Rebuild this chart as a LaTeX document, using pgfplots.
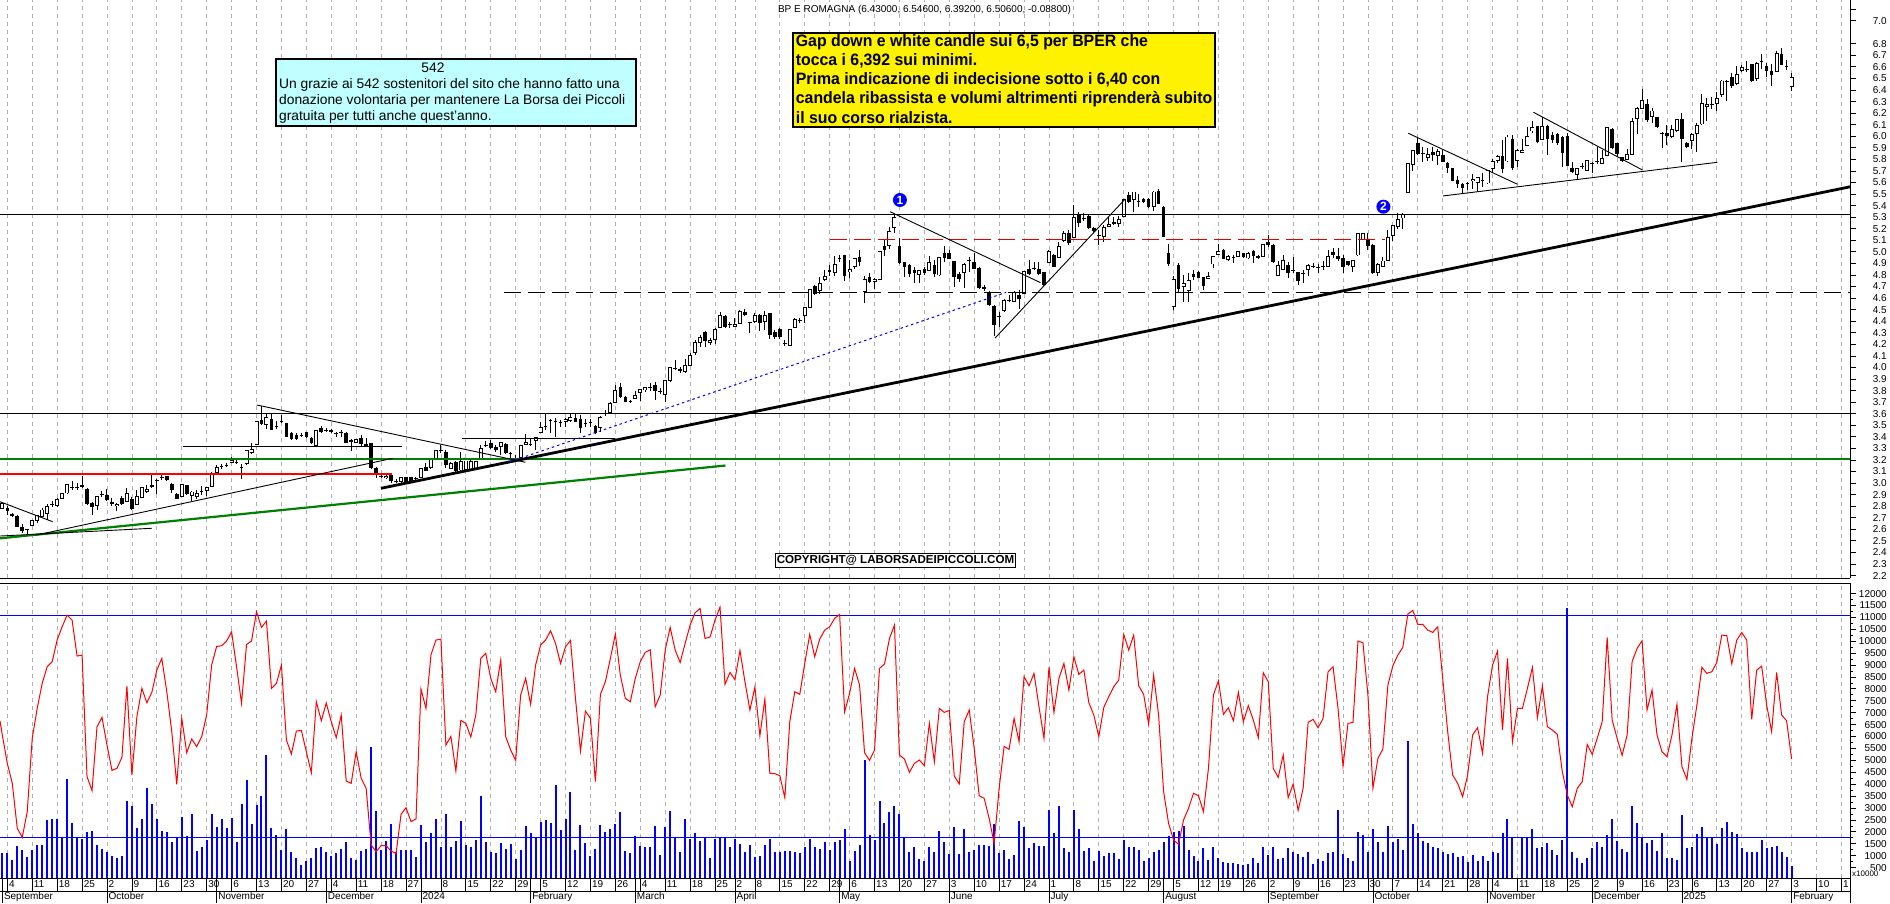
\documentclass[border=0pt]{standalone}
\usepackage{fontspec}
\setmainfont{Liberation Sans}
\newfontfamily\narrowb[FakeStretch=0.96]{Liberation Sans Bold}
\usepackage{pgfplots}
\usepackage{pgfplotstable}
\pgfplotsset{compat=1.18}
% black candles and dojis: bar o h l c
\pgfplotstableread{
i o h l c
0 2.787 2.802 2.724 2.759
1 2.733 2.738 2.710 2.715
2 2.715 2.720 2.618 2.623
3 2.623 2.646 2.571 2.586
4 2.603 2.603 2.551 2.603
9 2.816 2.848 2.790 2.816
13 2.969 3.018 2.940 2.969
14 2.969 2.998 2.940 2.969
15 2.981 3.064 2.955 2.963
16 2.949 2.955 2.813 2.819
17 2.825 2.839 2.724 2.790
19 2.903 2.935 2.877 2.903
20 2.894 2.946 2.848 2.854
21 2.839 2.868 2.802 2.822
23 2.868 2.888 2.808 2.819
25 2.862 2.883 2.767 2.776
29 2.984 3.070 2.955 2.963
30 3.027 3.036 2.903 3.027
31 3.050 3.090 3.027 3.050
32 3.059 3.064 3.020 3.024
33 2.992 2.998 2.917 2.940
34 2.906 2.911 2.860 2.865
36 2.981 2.984 2.900 2.906
39 2.929 2.978 2.897 2.929
43 3.145 3.168 3.122 3.145
44 3.160 3.177 3.136 3.160
46 3.183 3.200 3.165 3.183
47 3.142 3.162 3.036 3.142
51 3.546 3.667 3.503 3.508
53 3.555 3.604 3.459 3.462
54 3.497 3.540 3.468 3.497
55 3.540 3.589 3.517 3.540
56 3.517 3.520 3.398 3.402
57 3.433 3.445 3.373 3.379
58 3.413 3.431 3.373 3.379
59 3.416 3.436 3.402 3.416
60 3.439 3.445 3.390 3.396
61 3.393 3.402 3.338 3.347
63 3.477 3.494 3.431 3.442
64 3.459 3.474 3.445 3.459
65 3.459 3.471 3.433 3.439
66 3.431 3.445 3.402 3.431
67 3.439 3.459 3.402 3.439
68 3.433 3.440 3.345 3.350
69 3.370 3.379 3.281 3.353
71 3.387 3.416 3.315 3.341
72 3.338 3.387 3.315 3.324
73 3.344 3.350 3.120 3.128
74 3.134 3.142 3.041 3.087
75 3.064 3.079 3.041 3.064
77 3.070 3.079 2.998 3.018
78 3.018 3.033 2.998 3.018
80 3.050 3.055 3.005 3.012
81 3.050 3.055 3.005 3.010
82 3.041 3.050 3.030 3.041
84 3.136 3.171 3.102 3.108
87 3.286 3.330 3.263 3.286
88 3.272 3.286 3.128 3.157
90 3.185 3.190 3.100 3.108
96 3.330 3.367 3.315 3.330
97 3.350 3.373 3.298 3.307
98 3.314 3.329 3.271 3.285
100 3.337 3.345 3.250 3.257
101 3.257 3.271 3.213 3.257
102 3.219 3.242 3.185 3.219
105 3.337 3.386 3.320 3.337
108 3.493 3.597 3.459 3.493
109 3.545 3.551 3.435 3.545
110 3.539 3.559 3.401 3.539
111 3.525 3.545 3.482 3.525
114 3.559 3.603 3.525 3.531
115 3.551 3.588 3.430 3.473
116 3.522 3.551 3.482 3.522
117 3.525 3.551 3.487 3.525
118 3.493 3.502 3.421 3.430
120 3.603 3.632 3.580 3.603
123 3.828 3.868 3.738 3.747
124 3.741 3.750 3.700 3.704
125 3.709 3.715 3.690 3.698
129 3.828 3.868 3.796 3.828
130 3.845 3.877 3.718 3.796
131 3.799 3.819 3.770 3.799
134 3.998 4.064 3.978 3.983
135 3.983 4.006 3.955 3.969
140 4.304 4.312 4.180 4.229
144 4.445 4.450 4.340 4.347
145 4.378 4.396 4.338 4.378
148 4.477 4.505 4.445 4.451
149 4.393 4.396 4.301 4.393
151 4.451 4.462 4.318 4.381
153 4.468 4.474 4.246 4.280
154 4.304 4.324 4.246 4.263
155 4.329 4.338 4.246 4.260
156 4.214 4.237 4.185 4.214
159 4.410 4.430 4.381 4.410
162 4.704 4.716 4.629 4.635
165 4.843 4.886 4.791 4.823
167 4.944 4.973 4.912 4.944
168 4.973 4.973 4.751 4.791
171 4.952 5.016 4.877 4.915
173 4.779 4.820 4.727 4.739
176 5.050 5.102 4.967 5.016
179 5.050 5.117 4.895 4.901
180 4.912 4.915 4.785 4.872
181 4.883 4.895 4.785 4.808
182 4.843 4.866 4.733 4.814
184 4.854 4.872 4.800 4.820
186 4.886 4.929 4.779 4.808
188 4.993 5.050 4.915 4.944
189 4.993 5.016 4.935 4.941
190 4.921 4.924 4.699 4.785
191 4.808 4.828 4.742 4.762
193 4.929 4.958 4.828 4.929
194 4.912 4.987 4.849 4.854
195 4.857 4.866 4.676 4.684
196 4.700 4.710 4.665 4.675
197 4.655 4.661 4.531 4.540
198 4.531 4.540 4.272 4.367
199 4.448 4.482 4.352 4.448
201 4.583 4.626 4.563 4.583
203 4.626 4.670 4.502 4.592
205 4.851 4.929 4.797 4.808
206 4.863 4.915 4.843 4.863
207 4.848 4.912 4.799 4.811
208 4.825 4.830 4.705 4.713
210 4.973 4.980 4.865 4.872
213 5.160 5.189 5.059 5.079
215 5.321 5.347 5.218 5.246
216 5.290 5.333 5.270 5.290
217 5.310 5.319 5.197 5.206
218 5.209 5.218 5.174 5.183
219 5.146 5.189 5.059 5.146
222 5.255 5.298 5.232 5.244
225 5.489 5.520 5.425 5.434
227 5.443 5.497 5.391 5.443
228 5.454 5.463 5.425 5.431
229 5.454 5.463 5.382 5.391
231 5.526 5.541 5.411 5.417
232 5.385 5.396 5.125 5.131
233 4.990 5.065 4.877 4.895
235 4.886 4.900 4.641 4.681
238 4.811 4.843 4.756 4.782
239 4.823 4.837 4.771 4.776
240 4.779 4.785 4.670 4.707
244 5.013 5.022 4.935 4.941
246 4.952 4.973 4.900 4.952
248 4.987 4.990 4.950 4.958
250 5.004 5.016 4.906 4.964
251 4.964 4.970 4.940 4.944
253 5.082 5.146 5.045 5.059
254 5.059 5.065 4.905 4.915
257 4.886 4.909 4.771 4.820
258 4.840 4.958 4.814 4.840
259 4.823 4.828 4.713 4.750
260 4.814 4.843 4.733 4.814
262 4.880 4.900 4.857 4.880
263 4.872 4.895 4.814 4.872
264 4.880 4.921 4.843 4.880
266 5.001 5.030 4.944 4.973
267 4.964 5.030 4.923 4.941
268 4.947 4.973 4.820 4.866
269 4.918 4.925 4.880 4.886
273 5.108 5.160 5.016 5.050
274 5.059 5.065 4.805 4.814
283 5.942 5.985 5.838 5.850
284 5.858 5.910 5.777 5.858
286 5.864 5.910 5.789 5.838
288 5.835 5.881 5.774 5.780
289 5.766 5.774 5.685 5.728
290 5.723 5.730 5.610 5.616
291 5.619 5.656 5.555 5.590
292 5.584 5.599 5.506 5.552
293 5.593 5.607 5.535 5.593
296 5.622 5.679 5.564 5.622
300 5.826 5.968 5.679 5.714
302 5.973 6.011 5.708 5.728
307 6.086 6.090 5.945 5.953
309 6.089 6.095 5.838 5.973
310 6.011 6.040 5.939 5.968
311 6.020 6.031 5.924 5.945
312 5.994 6.002 5.737 5.858
313 6.000 6.025 5.743 5.746
314 5.728 5.780 5.679 5.691
316 5.746 5.772 5.714 5.746
318 5.769 5.774 5.685 5.769
319 5.789 5.910 5.760 5.789
322 6.063 6.069 5.887 5.899
323 5.939 5.945 5.823 5.844
324 5.818 5.824 5.780 5.786
329 6.279 6.320 6.126 6.138
331 6.164 6.170 6.071 6.083
332 6.031 6.037 5.901 6.031
333 6.025 6.097 5.924 6.005
336 6.149 6.204 5.780 5.973
337 5.945 5.953 5.901 5.907
342 6.279 6.337 6.233 6.279
345 6.478 6.487 6.305 6.478
346 6.510 6.550 6.421 6.438
349 6.582 6.651 6.559 6.582
350 6.622 6.625 6.467 6.478
352 6.651 6.712 6.579 6.651
353 6.608 6.631 6.516 6.568
354 6.565 6.625 6.438 6.533
356 6.712 6.761 6.614 6.620
357 6.611 6.660 6.573 6.611
}\candB
% white candles: bar o h l c
\pgfplotstableread{
i o h l c
-1 2.782 2.830 2.773 2.825
5 2.632 2.681 2.629 2.678
6 2.675 2.724 2.658 2.718
7 2.715 2.782 2.710 2.767
8 2.733 2.819 2.681 2.796
10 2.808 2.868 2.796 2.860
11 2.868 2.917 2.862 2.911
12 2.914 2.995 2.908 2.989
18 2.808 2.888 2.767 2.883
22 2.802 2.825 2.762 2.816
24 2.839 2.955 2.833 2.911
26 2.816 2.940 2.811 2.883
27 2.877 2.963 2.868 2.961
28 2.926 2.984 2.917 2.946
35 2.883 2.989 2.877 2.984
37 2.891 2.929 2.848 2.923
38 2.888 2.940 2.860 2.906
40 2.935 2.963 2.888 2.958
41 2.969 3.099 2.963 3.070
42 3.090 3.154 3.085 3.134
45 3.180 3.223 3.171 3.197
48 3.171 3.286 3.157 3.281
49 3.263 3.344 3.252 3.292
50 3.335 3.540 3.327 3.532
52 3.508 3.604 3.465 3.569
62 3.324 3.460 3.320 3.457
70 3.350 3.385 3.345 3.379
76 3.050 3.070 3.033 3.061
79 3.012 3.050 3.000 3.047
83 3.047 3.133 3.040 3.128
85 3.131 3.206 3.125 3.203
86 3.203 3.290 3.198 3.281
89 3.128 3.180 3.120 3.171
91 3.113 3.272 3.108 3.185
92 3.119 3.195 3.113 3.191
93 3.119 3.214 3.113 3.185
94 3.128 3.195 3.120 3.185
95 3.214 3.330 3.200 3.301
99 3.320 3.358 3.242 3.349
103 3.222 3.330 3.215 3.326
104 3.335 3.421 3.329 3.352
106 3.369 3.401 3.285 3.392
107 3.435 3.531 3.430 3.482
112 3.531 3.559 3.482 3.551
113 3.539 3.608 3.531 3.568
119 3.482 3.580 3.444 3.568
121 3.608 3.698 3.597 3.689
122 3.698 3.848 3.689 3.802
126 3.735 3.799 3.724 3.758
127 3.784 3.810 3.712 3.810
128 3.805 3.833 3.790 3.828
132 3.770 3.891 3.704 3.885
133 3.885 4.006 3.877 4.001
136 3.963 4.070 3.955 4.021
137 4.018 4.122 4.012 4.105
138 4.128 4.237 4.107 4.220
139 4.214 4.280 4.180 4.263
141 4.214 4.252 4.194 4.234
142 4.243 4.338 4.203 4.329
143 4.344 4.482 4.338 4.448
146 4.353 4.425 4.347 4.373
147 4.381 4.497 4.376 4.488
150 4.396 4.468 4.387 4.448
152 4.399 4.491 4.324 4.448
157 4.191 4.335 4.185 4.329
158 4.344 4.425 4.338 4.416
160 4.451 4.526 4.387 4.520
161 4.520 4.681 4.514 4.676
163 4.664 4.779 4.635 4.727
164 4.762 4.843 4.751 4.785
166 4.820 4.964 4.791 4.892
169 4.826 4.929 4.771 4.849
170 4.877 4.950 4.849 4.944
172 4.655 4.791 4.560 4.762
174 4.745 4.771 4.676 4.762
175 4.762 5.007 4.756 5.004
177 5.056 5.212 5.022 5.177
178 5.209 5.319 5.166 5.299
183 4.808 4.843 4.727 4.837
185 4.843 4.964 4.837 4.909
187 4.800 4.958 4.791 4.950
192 4.823 4.901 4.684 4.889
200 4.497 4.589 4.482 4.580
202 4.574 4.658 4.566 4.652
204 4.641 4.837 4.635 4.831
209 4.906 5.013 4.900 5.007
211 4.949 5.088 4.944 5.047
212 5.102 5.180 5.088 5.157
214 5.125 5.405 5.117 5.298
220 5.131 5.232 5.088 5.209
221 5.221 5.298 5.212 5.238
223 5.246 5.310 5.218 5.281
224 5.304 5.460 5.300 5.454
226 5.454 5.520 5.345 5.518
230 5.391 5.526 5.356 5.518
234 4.526 4.794 4.497 4.762
236 4.698 4.799 4.569 4.724
237 4.670 4.814 4.569 4.753
241 4.771 4.828 4.765 4.791
242 4.895 4.967 4.857 4.961
243 4.978 5.068 4.970 5.004
245 4.935 4.973 4.918 4.958
247 4.958 5.005 4.955 5.001
249 4.947 5.001 4.941 4.987
252 4.958 5.068 4.952 5.062
255 4.799 4.921 4.794 4.886
256 4.848 4.973 4.843 4.924
261 4.848 4.892 4.791 4.886
265 4.872 5.016 4.866 4.964
270 4.877 4.929 4.828 4.923
271 4.973 5.165 4.968 5.160
272 5.108 5.165 5.100 5.160
275 4.820 4.900 4.794 4.892
276 4.872 4.958 4.866 4.921
277 4.923 5.189 4.918 5.125
278 5.140 5.232 5.097 5.229
279 5.223 5.333 5.195 5.281
280 5.293 5.333 5.195 5.321
281 5.512 5.770 5.508 5.766
282 5.757 5.881 5.702 5.878
285 5.818 5.896 5.789 5.844
287 5.835 5.887 5.751 5.867
294 5.619 5.674 5.544 5.630
295 5.601 5.650 5.521 5.645
297 5.596 5.708 5.587 5.702
298 5.723 5.800 5.679 5.780
299 5.789 5.841 5.766 5.824
301 5.786 6.011 5.780 5.994
303 5.792 5.887 5.731 5.875
304 5.858 5.973 5.852 5.878
305 5.922 6.083 5.916 6.002
306 6.046 6.135 6.025 6.077
308 5.973 6.164 5.968 6.083
315 5.668 5.728 5.622 5.723
317 5.708 5.795 5.702 5.789
320 5.766 5.881 5.760 5.809
321 5.835 6.083 5.829 6.077
325 5.800 5.890 5.795 5.844
326 5.844 6.155 5.838 6.129
327 6.155 6.250 6.017 6.242
328 6.242 6.409 6.236 6.308
330 6.175 6.242 6.118 6.219
334 5.997 6.097 5.982 6.060
335 6.048 6.152 6.040 6.147
338 5.965 6.025 5.887 6.017
339 6.023 6.118 5.867 6.095
340 6.106 6.366 6.100 6.285
341 6.259 6.328 6.135 6.273
343 6.282 6.386 6.221 6.328
344 6.363 6.487 6.343 6.478
347 6.455 6.608 6.446 6.536
348 6.568 6.617 6.559 6.596
351 6.498 6.643 6.481 6.631
355 6.562 6.741 6.556 6.718
358 6.430 6.546 6.392 6.506
}\candW
% volume bars
\pgfplotstableread{
i v
-1 1129
0 1129
1 821
2 1409
3 1226
4 961
5 1226
6 1450
7 1450
8 2485
9 2541
10 2527
11 1772
12 4218
13 2387
14 1730
15 1716
16 1996
17 2037
18 1450
19 1283
20 1171
21 989
22 919
23 975
24 3296
25 3086
26 2149
27 2527
28 3827
29 3156
30 2527
31 2037
32 1996
33 1590
34 1730
35 2611
36 1828
37 2736
38 1199
39 1352
40 1660
41 2750
42 2219
43 2541
44 2177
45 2583
46 1590
47 3156
48 4176
49 2331
50 3114
51 3491
52 5225
53 2163
54 1870
55 1254
56 2121
57 1143
58 919
59 611
60 793
61 891
62 1338
63 1352
64 1143
65 1003
66 1115
67 1283
68 1562
69 905
70 821
71 1199
72 1268
73 5546
74 2876
75 1226
76 1632
77 2345
78 1143
79 1241
80 1241
81 1241
82 933
83 2289
84 1576
85 1940
86 2527
87 1352
88 2750
89 1352
90 1632
91 2457
92 1450
93 1366
94 1660
95 3505
96 1562
97 1171
98 1115
99 1520
100 1296
101 1478
102 863
103 1241
104 2233
105 1954
106 1772
107 2415
108 2485
109 2359
110 3953
111 2079
112 2527
113 3673
114 1241
115 2289
116 1520
117 1003
118 1283
119 2289
120 2009
121 2107
122 2345
123 2835
124 1213
125 1129
126 1828
127 1409
128 1352
129 1366
130 2247
131 1031
132 2219
133 2876
134 1772
135 1157
136 2527
137 1702
138 1940
139 1618
140 1730
141 919
142 1702
143 1772
144 1772
145 1352
146 1688
147 1492
148 1157
149 1450
150 933
151 989
152 1436
153 1688
154 1157
155 1143
156 1199
157 1185
158 1143
159 1101
160 1366
161 1688
162 1366
163 1268
164 1576
165 1241
166 1562
167 1660
168 2107
169 793
170 1199
171 1450
172 5015
173 1870
174 1660
175 3296
176 2359
177 2820
178 3086
179 2764
180 1772
181 1157
182 1366
183 863
184 793
185 1366
186 1157
187 2023
188 1576
189 1059
190 2191
191 1059
192 2107
193 1157
194 1241
195 1450
196 1450
197 1409
198 2331
199 1129
200 1241
201 877
202 1017
203 2457
204 2205
205 1338
206 1534
207 1409
208 1409
209 2918
210 1940
211 3086
212 1310
213 1143
214 2918
215 2107
216 1199
217 1310
218 779
219 1199
220 989
221 1101
222 1101
223 877
224 1646
225 1366
226 1366
227 1241
228 779
229 919
230 1157
231 1241
232 1576
233 1814
234 1996
235 2023
236 2233
237 1226
238 989
239 779
240 1310
241 821
242 1366
243 905
244 751
245 695
246 695
247 639
248 625
249 653
250 905
251 695
252 1352
253 1031
254 1352
255 877
256 905
257 1310
258 1157
259 1087
260 933
261 1157
262 653
263 863
264 779
265 1115
266 1157
267 2918
268 1059
269 905
270 779
271 1982
272 1870
273 1157
274 2121
275 1562
276 1157
277 2261
278 1562
279 1702
280 1226
281 5826
282 2317
283 1940
284 1618
285 1520
286 1366
287 1310
288 1157
289 1059
290 1101
291 933
292 989
293 751
294 1031
295 779
296 989
297 779
298 1157
299 1115
300 1940
301 2527
302 1772
304 1730
305 1772
306 2121
307 1338
308 1366
309 1548
310 1241
311 1031
312 1660
313 11376
314 1143
315 891
316 681
317 891
318 1338
319 1576
320 1366
321 1870
322 2527
323 1618
324 1296
325 1157
326 3086
327 2359
328 1730
329 1548
330 1646
331 1199
332 1954
333 905
334 905
335 821
336 2708
337 1310
338 1380
339 1898
340 2191
341 1772
342 1772
343 1478
344 2149
345 2415
346 1996
347 1898
348 1310
349 1157
350 1157
351 1143
352 1646
353 1338
354 1366
355 1409
356 1143
357 947
358 569
}\vols
% red oscillator line
\pgfplotstableread{
i w
-1.46 6651
-1 6064
0 4875
1 4037
2 2149
3 1772
4 2848
5 5924
6 7182
7 8231
8 8930
9 9139
10 10048
11 10607
12 11096
13 10887
14 9377
15 9419
16 4316
17 3729
18 6413
19 6804
20 5644
21 4582
22 4666
23 5127
24 8119
25 4386
26 6832
27 8021
28 7420
29 7853
30 8790
31 9279
32 7881
33 6203
34 3995
35 6763
36 5323
37 5896
38 5574
39 5994
40 6902
41 9000
42 9782
43 9810
44 10006
45 10397
46 8930
47 7392
48 9866
49 10006
50 11236
51 10579
52 10845
53 8021
54 8231
55 9000
56 5854
57 5267
58 6231
59 6259
60 5365
61 4484
62 7462
63 6665
64 7406
65 6623
66 5952
67 6902
68 4134
69 4037
70 5365
71 4246
72 3827
73 1450
74 1171
75 1422
76 1422
77 1199
78 1087
79 2736
80 3016
81 2429
82 2541
83 7993
84 7182
85 9419
86 10048
87 10090
88 5644
89 6008
90 4554
91 6679
92 6553
93 5980
94 6902
95 9279
96 9489
97 8440
98 7881
99 9209
100 5994
101 5434
102 5001
103 7741
104 8440
105 7350
106 9000
107 9838
108 10048
109 10439
110 9908
111 9069
112 9768
113 10034
114 7601
115 5393
116 7070
117 6763
118 4106
119 7769
120 8300
121 9279
122 10300
123 8580
124 7601
125 7462
126 8440
127 9139
128 9531
129 9642
130 7252
131 7741
132 9629
133 10579
134 9629
135 9111
136 9908
137 10677
138 11194
139 11376
140 10118
141 10174
142 10887
143 11432
144 8189
145 8692
146 8384
147 9615
148 8300
149 7112
150 8077
151 6036
152 7573
153 4456
154 4442
155 4358
156 3435
157 6623
158 7881
159 7769
160 9069
161 10286
162 9349
163 10090
164 10467
165 10607
166 10957
167 11124
168 7042
169 7811
170 8860
171 8161
172 5323
173 5001
174 5434
175 8860
176 9041
177 10118
178 10677
179 5225
180 5057
181 4498
182 4875
183 5015
184 4777
185 6553
186 4945
187 7182
188 7014
189 7098
190 4344
191 4009
192 6623
193 7112
194 5504
195 3519
196 3407
197 2569
198 1520
199 3827
200 5588
201 5462
202 6763
203 5784
204 8510
205 8133
206 8650
207 7252
208 5924
209 8902
210 7014
211 8440
212 9069
213 7951
214 9349
215 8608
216 8790
217 7420
218 6902
219 5994
220 7224
221 7671
222 8091
223 8370
224 10286
225 9629
226 10258
227 8133
228 7769
229 6525
230 8580
231 6902
232 3687
233 2359
234 1660
235 1478
236 2499
237 2988
238 3617
239 3519
240 2848
241 4666
242 7741
243 8342
244 6930
245 7210
246 6665
247 7853
248 6623
249 7294
250 6693
251 5952
252 8678
253 8300
254 4666
255 4288
256 5225
257 3435
258 4009
259 2904
260 3827
261 6595
262 6721
263 6371
264 6763
265 8720
266 8930
267 7182
268 4764
269 6553
270 6595
271 10006
272 9936
273 7741
274 3827
275 5085
276 5476
277 8161
278 8971
279 9419
280 9740
281 11138
282 11292
283 10705
284 10705
285 10467
286 10369
287 10607
288 8440
289 6203
290 4386
291 4037
292 3477
293 4386
294 6064
295 6371
296 5295
297 7671
298 9000
299 9587
300 6273
301 9279
302 5784
303 7182
304 7182
305 8021
306 8902
307 6791
308 8119
309 6413
310 6273
311 6092
312 4526
313 3547
314 3058
315 3827
316 4106
317 5672
318 5253
319 5924
320 6623
321 10160
322 6693
323 5924
324 5211
325 6064
326 9139
327 9698
328 10020
329 7112
330 7951
331 6064
332 5365
333 5155
334 6064
335 7350
336 4736
337 4204
338 5924
339 7322
340 8902
341 8650
342 8720
343 9111
344 10258
345 10230
346 9055
347 10048
348 10369
349 10048
350 6721
351 8790
352 8957
353 7322
354 6203
355 8692
356 6902
357 6665
358 5057
}\osc
\definecolor{gridgray}{RGB}{175,175,175}
\definecolor{tgreen}{RGB}{0,128,0}
\definecolor{boxcyan}{RGB}{192,255,255}
\pgfplotsset{
  chart/.style={
    scale only axis, width=1850pt, xmin=-1.465, xmax=369.72,
    anchor=south west, clip mode=individual, scaled y ticks=false,
    axis x line*=bottom, axis y line*=right, axis line style={-,black,line width=1pt},
    xtick={0,5,10,15,20,25,30,35,40,45,50,55,60,65,70,75,80,87,92,97,102,107,112,117,122,127,132,137,142,146,150,155,160,165,169,174,179,184,189,194,199,204,209,214,219,224,229,234,239,243,248,253,258,263,268,273,278,283,288,293,298,303,308,313,318,323,328,333,338,343,348,353,358,363,368},
    xmajorgrids, grid style={gridgray,line width=0.8pt,dash pattern=on 4pt off 4pt},
    tick align=outside, y tick style={black,line width=0.8pt}, x tick style={draw=none},
    major tick length=6pt,
    ytick pos=right, yticklabel pos=right,
    minor y tick num=1, minor tick length=3pt,
    y tick label style={font=\fontsize{10}{11}\selectfont, anchor=east, xshift=31pt, inner xsep=0pt},
    /pgf/number format/assume math mode=true,
  },
  candlebar/.style={no marks, draw=none, forget plot,
    error bars/.cd, y dir=minus, y explicit, error mark=none,
    error bar style={#1}},
}
\begin{document}
\begin{tikzpicture}[x=1pt,y=1pt]
\path[use as bounding box] (0,0) rectangle (1890,903);
% ---------- price panel
\begin{axis}[chart, at={(0pt,325pt)}, height=578pt, ymin=2.179, ymax=7.179,
  ytick={2.2,2.3,...,6.9,7.0},
  extra y ticks={7.1}, extra y tick labels={},
  xticklabels={},
  /pgf/number format/.cd, fixed, fixed zerofill, precision=1]
\addplot[candlebar={draw=black,line width=1pt}] table[x=i,y=h,y error minus expr=\thisrow{h}-\thisrow{l}] {\candB};
\addplot[candlebar={draw=black,line width=1pt}] table[x=i,y=h,y error minus expr=\thisrow{h}-\thisrow{l}] {\candW};
\addplot[candlebar={draw=black,line width=3.6pt}] table[x=i,y=o,y error minus expr={max(\thisrow{o}-\thisrow{c},0.009)}] {\candB};
\addplot[candlebar={draw=black,line width=4pt}] table[x=i,y expr=\thisrow{c}+0.004,y error minus expr=\thisrow{c}-\thisrow{o}+0.008] {\candW};
\addplot[candlebar={draw=white,line width=2.2pt}] table[x=i,y expr=\thisrow{c}-0.004,y error minus expr={max(\thisrow{c}-\thisrow{o}-0.008,0)}] {\candW};
% levels
\addplot[black,line width=1.2pt] coordinates {(-1.465,5.325) (369.72,5.325)};
\addplot[black,line width=1.2pt] coordinates {(-1.465,3.604) (369.72,3.604)};
\addplot[tgreen,line width=2.2pt] coordinates {(-1.465,3.211) (369.72,3.211)};
\addplot[red,line width=2.2pt] coordinates {(-1.465,3.079) (77.2,3.079)};
\addplot[black,line width=1.3pt,dash pattern=on 17pt off 7pt] coordinates {(99.66,4.650) (369.72,4.650)};
\addplot[red!90!black,line width=1.3pt,dash pattern=on 17pt off 7pt] coordinates {(165,5.109) (276.4,5.109)};
% trend lines
\addplot[black,line width=2.8pt] coordinates {(74.98,2.955) (369.72,5.563)};
\addplot[tgreen,line width=2.2pt] coordinates {(-1.465,2.522) (144.1,3.152)};
\addplot[black,line width=0.9pt] coordinates {(-1.465,2.839) (9.1,2.666)};
\addplot[black,line width=0.9pt] coordinates {(-1.465,2.542) (28.97,2.609)};
\addplot[black,line width=0.9pt] coordinates {(5.9,2.551) (77.3,3.214)};
\addplot[black,line width=0.9pt] coordinates {(50.04,3.676) (103.97,3.180)};
\addplot[black,line width=1pt] coordinates {(35.2,3.318) (79.1,3.318)};
\addplot[black,line width=1pt] coordinates {(91.2,3.388) (121.9,3.388)};
\addplot[black,line width=0.9pt] coordinates {(177.1,5.348) (207.3,4.734)};
\addplot[black,line width=0.9pt] coordinates {(198.2,4.255) (224.3,5.458)};
\addplot[black,line width=0.9pt] coordinates {(281.1,6.026) (303,5.585)};
\addplot[black,line width=0.9pt] coordinates {(288.1,5.484) (343.1,5.775)};
\addplot[black,line width=0.9pt] coordinates {(306.2,6.208) (328.1,5.708)};
\addplot[blue,line width=1pt,dash pattern=on 2.5pt off 3pt] coordinates {(100.9,3.185) (200.4,4.650)};
\node[circle,fill=blue,inner sep=0pt,minimum size=14pt,text=white,font=\bfseries\fontsize{12}{12}\selectfont] at (axis cs:179.1,5.449) {1};
\node[circle,fill=blue,inner sep=0pt,minimum size=14pt,text=white,font=\bfseries\fontsize{12}{12}\selectfont] at (axis cs:276.1,5.391) {2};
\end{axis}
% ---------- volume panel
\begin{axis}[chart, at={(0pt,25pt)}, height=295pt, ymin=65, ymax=12443,
  ytick={500,1000,...,12000},
  xticklabels={4,11,18,25,2,9,16,23,30,6,13,20,27,4,11,18,27,8,15,22,29,5,12,19,26,4,11,18,25,2,8,15,22,29,6,13,20,27,3,10,17,24,1,8,15,22,29,5,12,19,26,2,9,16,23,30,7,14,21,28,4,11,18,25,2,9,16,23,6,13,20,27,3,10,1},
  x tick label style={font=\fontsize{10}{11}\selectfont, anchor=north west, inner xsep=1.5pt, inner ysep=0pt, yshift=4pt},
  extra x ticks={-1,20,42,64,83,105,126,146,167,189,209,232,253,274,297,318,336,358},
  extra x tick labels={September,October,November,December,2024,February,March,April,May,June,July,August,September,October,November,December,2025,February},
  extra x tick style={grid=none, x tick label style={yshift=-12pt}},
  /pgf/number format/.cd, fixed, 1000 sep={}]
\addplot[ycomb,blue,line width=2pt,mark=none] table[x=i,y=v] {\vols};
\addplot[blue,line width=1.2pt] coordinates {(-1.465,11082) (369.72,11082)};
\addplot[blue,line width=1.2pt] coordinates {(-1.465,1772) (369.72,1772)};
\addplot[red,line width=1pt,mark=none] table[x=i,y=w] {\osc};
\draw[black,line width=1pt] (rel axis cs:0,1) -- (rel axis cs:1,1);
\draw[black,line width=1pt] (rel axis cs:0,0) ++(0pt,-13pt) -- ++(1850pt,0pt);
\draw[black,line width=1pt] (rel axis cs:1,0) -- ++(0pt,-25pt);
\pgfplotsinvokeforeach{0,5,10,15,20,25,30,35,40,45,50,55,60,65,70,75,80,87,92,97,102,107,112,117,122,127,132,137,142,146,150,155,160,165,169,174,179,184,189,194,199,204,209,214,219,224,229,234,239,243,248,253,258,263,268,273,278,283,288,293,298,303,308,313,318,323,328,333,338,343,348,353,358,363,368}{
  \draw[black,line width=0.8pt] (axis cs:#1,65) -- ++(0pt,-13pt);
}
\pgfplotsinvokeforeach{-1,20,42,64,83,105,126,146,167,189,209,232,253,274,297,318,336,358}{
  \draw[black,line width=0.8pt] (axis cs:#1,65) -- ++(0pt,-25pt);
}
\node[anchor=south west,inner sep=1pt,xshift=1pt,font=\fontsize{8}{9}\selectfont,fill=white] at (rel axis cs:1,0) {x10000};
\end{axis}
% ---------- annotations (picture coordinates: y measured from the bottom)
\node[anchor=center,inner sep=0pt,font=\fontsize{10}{11}\selectfont] at (924.5,893.5) {BP E ROMAGNA (6.43000, 6.54600, 6.39200, 6.50600, -0.08800)};
\draw[black,line width=2pt,fill=boxcyan] (276,843.7) rectangle (636,777.3);
\begin{scope}[every node/.style={anchor=west,inner sep=0pt,font=\fontsize{13.8}{15}\selectfont}]
\node[anchor=center] at (433,835.7) {542};
\node at (279,818) {Un grazie ai 542 sostenitori del sito che hanno fatto una};
\node at (279,802.3) {donazione volontaria per mantenere La Borsa dei Piccoli};
\node at (279,786.3) {gratuita per tutti anche quest'anno.};
\end{scope}
\draw[black,line width=2pt,fill=yellow] (792.5,870.3) rectangle (1215,776);
\begin{scope}[every node/.style={anchor=west,inner sep=0pt,font=\fontsize{16.5}{18}\selectfont\narrowb}]
\node at (795.7,860.3) {Gap down e white candle sui 6,5 per BPER che};
\node at (795.7,842) {tocca i 6,392 sui minimi.};
\node at (795.7,823) {Prima indicazione di indecisione sotto i 6,40 con};
\node at (795.7,804) {candela ribassista e volumi altrimenti riprenderà subito};
\node at (795.7,785.7) {il suo corso rialzista.};
\end{scope}
\draw[black,line width=1.2pt,fill=white] (775.3,349.7) rectangle (1015.7,335.7);
\node[inner sep=0pt,font=\bfseries\fontsize{11.6}{12}\selectfont] at (895.5,342.7) {COPYRIGHT@ LABORSADEIPICCOLI.COM};
\end{tikzpicture}
\end{document}
